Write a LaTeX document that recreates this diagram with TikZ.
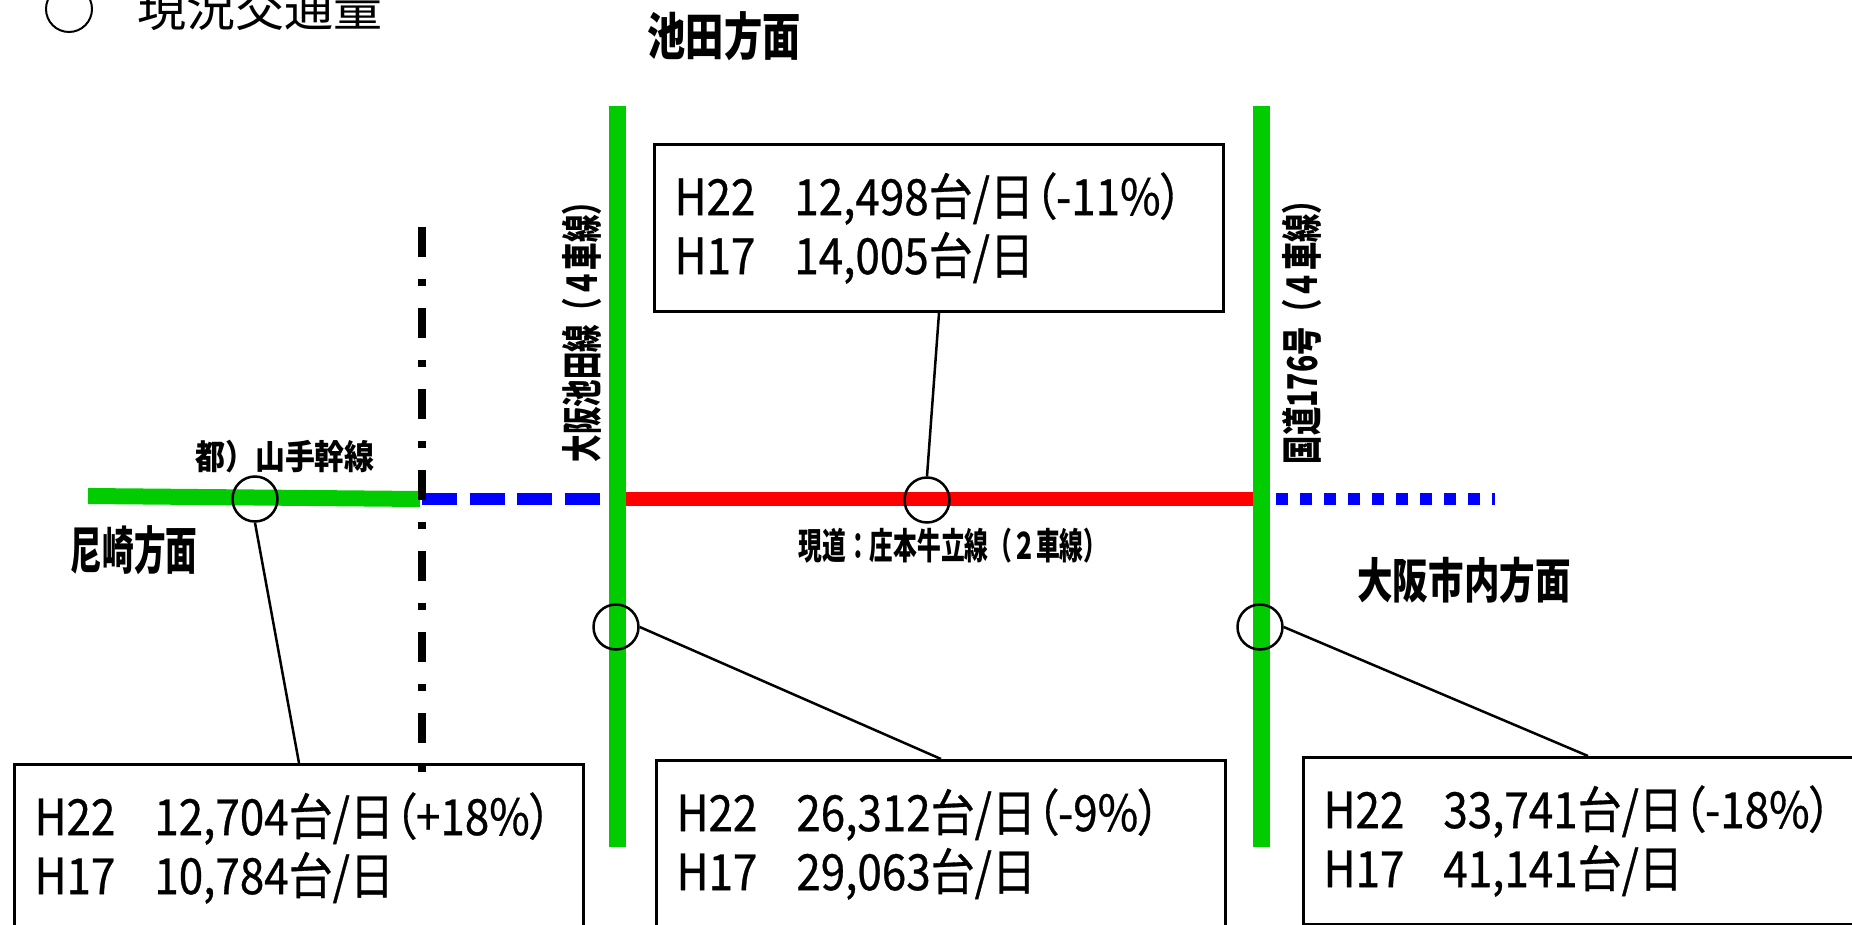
\documentclass[tikz,border=0pt]{standalone}
\usepackage{fontspec}
\usepackage{graphicx}
\usepackage{tikz}
\newfontfamily\jpfont{Noto Sans CJK JP}
\newfontfamily\countfont[FakeStretch=0.88,FakeBold=0.6,RawFeature=+palt]{Noto Sans CJK JP}
\newfontfamily\titlefont{Noto Sans CJK JP}
\definecolor{roadgreen}{RGB}{0,204,0}
\definecolor{roadblue}{RGB}{0,0,255}
\definecolor{roadred}{RGB}{255,0,0}
\newcommand{\sq}[2]{\scalebox{#1}[1]{#2}}
\newcommand{\gap}{\hspace{39pt}}

\begin{document}
\begin{tikzpicture}[x=1pt,y=-1pt,
		countbox/.style={draw,line width=3pt,anchor=north west,minimum width=569pt,minimum height=167pt,text width=529pt,inner xsep=20pt,align=left,font=\countfont\fontsize{50}{59}\selectfont},
		marker/.style={draw,circle,line width=2.5pt,minimum size=45pt,inner sep=0pt},
		leader/.style={line width=2.5pt},
		place/.style={font=\titlefont\bfseries\fontsize{#1}{#1}\selectfont,inner sep=0pt}]
			\useasboundingbox (0,0) rectangle (1852,925);

			% legend
			\node[draw,circle,line width=2pt,minimum size=46pt,inner sep=0pt] (legmark) at (69,9) {};
			\node[font=\jpfont\fontsize{49}{49}\selectfont,inner sep=0pt] (legtext) at (260,8) {現況交通量};

			% roads
			\coordinate (wend) at (88,496);
			\coordinate (bound) at (420,499);
			\coordinate (bndtop) at (422,227);
			\coordinate (bndbot) at (422,772);
			\coordinate (ikw) at (617.5,499);
			\coordinate (ike) at (1261.5,499);
			\coordinate (eend) at (1495,499);
			\draw[roadgreen,line width=16pt] (wend) -- (bound);
			\draw[roadblue,line width=11.5pt,dash pattern=on 35pt off 12.5pt] (422,499) -- (ikw);
			\draw[roadred,line width=14pt] (ikw) -- (ike);
			\draw[roadblue,line width=12pt,dash pattern=on 12pt off 12pt] (1276,499) -- (eend);
			\draw[line width=8pt,dash pattern=on 30pt off 22pt on 7pt off 22pt] (bndtop) -- (bndbot);
			\draw[roadgreen,line width=17pt] (617.5,106) -- (617.5,847);
			\draw[roadgreen,line width=17pt] (1261.5,106) -- (1261.5,847);

			% road names
			\node[place=51] (ikeda) at (724,36) {\sq{0.75}{池田方面}};
			\node[place=51] (amagasaki) at (134,550) {\sq{0.62}{尼崎方面}};
			\node[place=48] (osaka) at (1464,580) {\sq{0.74}{大阪市内方面}};
			\node[place=34] (yamate) at (285,457) {\sq{0.88}{都）山手幹線}};
			\node[place=36.5] (shomoto) at (953,546) {\sq{0.65}{現道：庄本牛立線（２車線）}};
			\node[place=41,rotate=90] (ikedasen) at (581.5,325) {\sq{0.67}{大阪池田線（４車線）}};
			\node[place=41,rotate=90] (kokudo) at (1301.5,325) {\sq{0.69}{国道176号（４車線）}};

			% count points
			\node[marker] (mkyamate) at (255,499) {};
			\node[marker] (mkshomoto) at (927,500) {};
			\node[marker] (mkikeda) at (616,627) {};
			\node[marker] (mkkokudo) at (1260,627) {};

			\node[countbox] (boxshomoto) at (653,143) {H22\gap 12,498台/日（-11\%）\\H17\gap 14,005台/日};
			\node[countbox] (boxyamate) at (13,763) {H22\gap 12,704台/日（+18\%）\\H17\gap 10,784台/日};
			\node[countbox] (boxikeda) at (655,759) {H22\gap 26,312台/日（-9\%）\\H17\gap 29,063台/日};
			\node[countbox] (boxkokudo) at (1302,756) {H22\gap 33,741台/日（-18\%）\\H17\gap 41,141台/日};

			\draw[leader] (mkshomoto.north) -- (boxshomoto.south);
			\draw[leader] (mkyamate.south) -- (boxyamate.north);
			\draw[leader] (mkikeda.east) -- (boxikeda.north);
			\draw[leader] (mkkokudo.east) -- (boxkokudo.north);
		\end{tikzpicture}
\end{document}
